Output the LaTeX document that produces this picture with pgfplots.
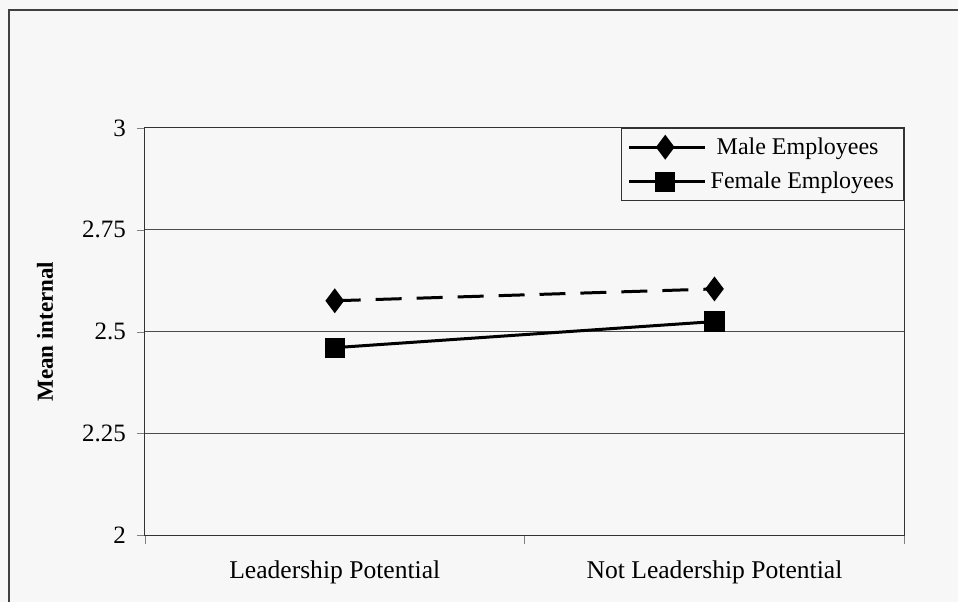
\documentclass[border=0pt]{standalone}
\usepackage{pgfplots}
\pgfplotsset{compat=1.18}
\usepackage{fontspec}
\setmainfont{Liberation Serif}
\begin{document}
\begin{tikzpicture}
% background and outer frame (1px = 0.5pt)
\fill[black!3] (0pt,0pt) rectangle (479.5pt,301pt);
\draw[black!75,line width=0.7pt] (4.5pt,0pt) -- (4.5pt,296pt) -- (479.5pt,296pt);
\begin{axis}[
  at={(72.5pt,33pt)}, anchor=south west,
  scale only axis, width=380pt, height=204pt,
  xmin=0.5, xmax=2.5, ymin=2, ymax=3,
  xtick={0.5,1.5,2.5}, xticklabels={},
  extra x ticks={1,2},
  extra x tick labels={Leadership Potential, Not Leadership Potential},
  extra x tick style={major tick length=0pt, grid=none},
  x tick label style={font=\fontsize{12.8}{14}\selectfont, yshift=-9pt},
  ytick={2,2.25,2.5,2.75,3},
  yticklabels={2,2.25,2.5,2.75,3},
  y tick label style={font=\fontsize{12.5}{14}\selectfont, xshift=-2pt},
  tick align=outside, tick pos=lower,
  major tick length=4pt,
  ymajorgrids, grid style={black!70, line width=0.5pt},
  axis line style={black!80, line width=0.6pt},
  ylabel={\bfseries Mean internal},
  every axis y label/.style={at={(rel axis cs:0,0.5)}, xshift=-50pt, rotate=90, anchor=center,
    font=\fontsize{11.5}{13}\selectfont},
  legend style={at={(1,1)}, anchor=north east, draw=black!80, line width=0.5pt,
    fill=black!3, font=\fontsize{12}{14}\selectfont, cells={anchor=west},
    inner xsep=3pt, inner ysep=2.5pt, row sep=3.5pt},
  legend image code/.code={\draw[mark repeat=2,mark phase=2,#1,solid]
    plot coordinates {(0pt,0pt) (18pt,0pt) (38pt,0pt)};},
  /pgf/number format/assume math mode=true,
]
\addplot[black, line width=1.5pt, dash pattern=on 13pt off 7.5pt,
  mark=diamond*, mark size=5pt, mark options={solid}]
  coordinates {(1,2.576) (2,2.605)};
\addlegendentry{\ Male Employees}
\addplot[black, line width=1.5pt, mark=square*, mark size=4.3pt]
  coordinates {(1,2.461) (2,2.525)};
\addlegendentry{Female Employees}
\end{axis}
\end{tikzpicture}
\end{document}
